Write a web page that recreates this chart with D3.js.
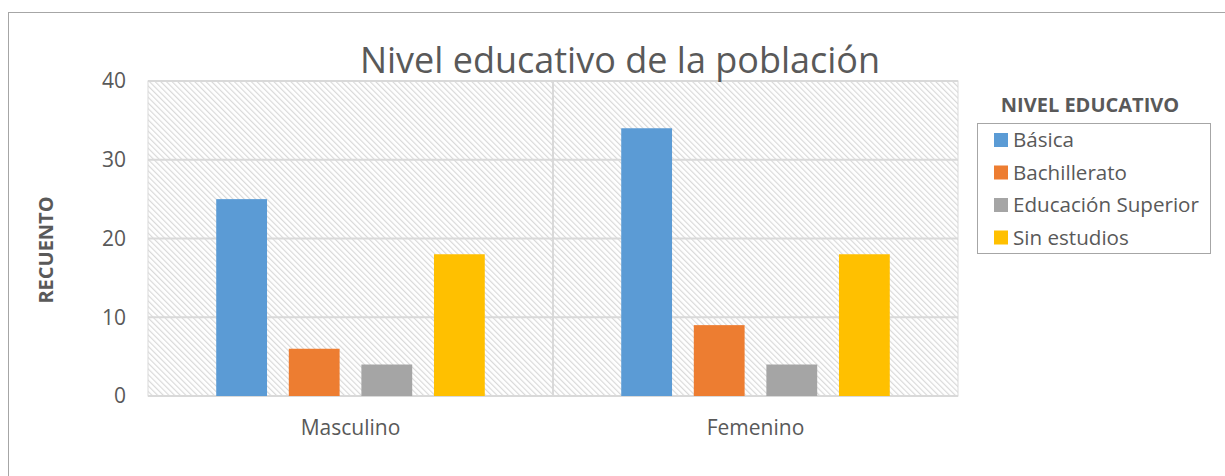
<!DOCTYPE html>
<html>
<head>
<meta charset="utf-8">
<script src="https://cdn.jsdelivr.net/npm/d3@7"></script>
<style>
  body { margin: 0; background: #fff; }
  text { font-family: "Open Sans", "Noto Sans", sans-serif; fill: #595959; }
</style>
</head>
<body>
<div id="chart"></div>
<script>
// Data
const groups = ["Masculino", "Femenino"];
const levels = ["Básica", "Bachillerato", "Educación Superior", "Sin estudios"];
const basica = [25, 34];
const bachillerato = [6, 9];
const superior = [4, 4];
const sinEstudios = [18, 18];
const yTicks = [0, 10, 20, 30, 40];
const colors = ["#5b9bd5", "#ed7d31", "#a5a5a5", "#ffc000"];

const series = [basica, bachillerato, superior, sinEstudios];

const width = 1225, height = 476;
const margin = {top: 81, right: 267, bottom: 80, left: 148};
const innerW = width - margin.left - margin.right;
const innerH = height - margin.top - margin.bottom;

const svg = d3.select("#chart").append("svg")
    .attr("width", width)
    .attr("height", height);

// hatch pattern for plot background
const defs = svg.append("defs");
defs.append("pattern")
    .attr("id", "hatch")
    .attr("patternUnits", "userSpaceOnUse")
    .attr("width", 4).attr("height", 4)
    .attr("patternTransform", "rotate(-45)")
    .append("rect")
    .attr("x", 0).attr("y", 0)
    .attr("width", 1.2).attr("height", 4)
    .attr("fill", "#d9d9d9");

// outer chart border
svg.append("rect")
    .attr("x", 8.5).attr("y", 12.5)
    .attr("width", width).attr("height", height)
    .attr("fill", "none")
    .attr("stroke", "#a6a6a6");

const g = svg.append("g").attr("transform", `translate(${margin.left},${margin.top})`);

const x0 = d3.scaleBand().domain(groups).range([0, innerW]).paddingInner(0).paddingOuter(0);
const x1 = d3.scaleBand().domain(levels).range([0, x0.bandwidth()]).paddingInner(0.3).paddingOuter(0.94);
const y = d3.scaleLinear().domain([0, 40]).range([innerH, 0]);

// plot background
g.append("rect")
    .attr("width", innerW).attr("height", innerH)
    .attr("fill", "url(#hatch)")
    .attr("stroke", "#d9d9d9");

// gridlines
g.append("g")
    .selectAll("line")
    .data(yTicks)
    .join("line")
    .attr("x1", 0).attr("x2", innerW)
    .attr("y1", d => y(d)).attr("y2", d => y(d))
    .attr("stroke", "#d9d9d9")
    .attr("stroke-width", 2);

// vertical divider between categories
g.append("line")
    .attr("x1", x0("Femenino")).attr("x2", x0("Femenino"))
    .attr("y1", 0).attr("y2", innerH)
    .attr("stroke", "#d9d9d9")
    .attr("stroke-width", 2);

// bars
groups.forEach((grp, gi) => {
    g.append("g")
        .attr("transform", `translate(${x0(grp)},0)`)
        .selectAll("rect")
        .data(levels.map((lv, li) => ({level: lv, value: series[li][gi], color: colors[li]})))
        .join("rect")
        .attr("x", d => x1(d.level))
        .attr("y", d => y(d.value))
        .attr("width", x1.bandwidth())
        .attr("height", d => innerH - y(d.value))
        .attr("fill", d => d.color);
});

// y axis labels
g.append("g")
    .selectAll("text")
    .data(yTicks)
    .join("text")
    .attr("x", -22)
    .attr("y", d => y(d))
    .attr("dy", "0.35em")
    .attr("text-anchor", "end")
    .style("font-size", "21px")
    .text(d => d);

// x axis labels
g.append("g")
    .selectAll("text")
    .data(groups)
    .join("text")
    .attr("x", d => x0(d) + x0.bandwidth() / 2)
    .attr("y", innerH + 39)
    .attr("text-anchor", "middle")
    .style("font-size", "21px")
    .text(d => d);

// y axis title
svg.append("text")
    .attr("transform", `translate(53,250) rotate(-90)`)
    .attr("text-anchor", "middle")
    .style("font-size", "20px")
    .style("font-weight", "bold")
    .text("RECUENTO");

// chart title
svg.append("text")
    .attr("x", 620).attr("y", 73)
    .attr("text-anchor", "middle")
    .style("font-size", "36px")
    .text("Nivel educativo de la población");

// legend
const lg = svg.append("g").attr("transform", "translate(977,0)");
lg.append("text")
    .attr("x", 113).attr("y", 112)
    .attr("text-anchor", "middle")
    .style("font-size", "20px")
    .style("font-weight", "bold")
    .text("NIVEL EDUCATIVO");
lg.append("rect")
    .attr("x", 0.5).attr("y", 123.5)
    .attr("width", 233).attr("height", 130)
    .attr("fill", "#fff")
    .attr("stroke", "#a6a6a6");
const item = lg.selectAll("g.item")
    .data(levels)
    .join("g")
    .attr("class", "item")
    .attr("transform", (d, i) => `translate(17,${140 + i * 32.5})`);
item.append("rect")
    .attr("x", 0).attr("y", -7)
    .attr("width", 14).attr("height", 14)
    .attr("fill", (d, i) => colors[i]);
item.append("text")
    .attr("x", 19).attr("dy", "0.35em")
    .style("font-size", "20.6px")
    .text(d => d);
</script>
</body>
</html>
